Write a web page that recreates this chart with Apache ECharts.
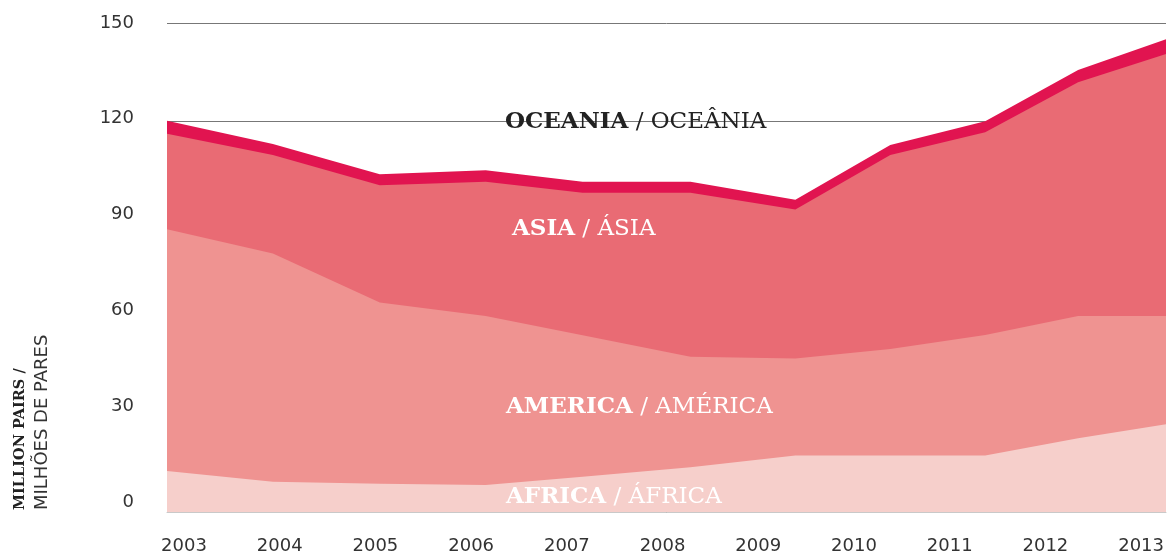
<!DOCTYPE html>
<html>
<head>
<meta charset="utf-8">
<title>Million pairs by region, 2003–2013</title>
<script src="https://cdn.jsdelivr.net/npm/echarts@6/dist/echarts.min.js"></script>
<style>
  html, body { margin: 0; padding: 0; background: #fff; }
  #chart { width: 1167px; height: 555px; }
</style>
</head>
<body>
<div id="chart"></div>
<script>
// Year labels shown under the chart
const years = ['2003', '2004', '2005', '2006', '2007', '2008', '2009', '2010', '2011', '2012', '2013'];
// Time of each observation, in fractional years
const sampleTimes = [2003, 2004.06, 2005.13, 2006.19, 2007.16, 2008.24, 2009.29, 2010.24, 2011.19, 2012.12, 2013];
// Million pairs per region (stacked bottom to top: Africa, America, Asia, Oceania)
const africa  = [12.6, 9.3, 8.7, 8.3, 10.8, 13.7, 17.3, 17.3, 17.3, 22.6, 26.9];
const america = [74.1, 70.0, 55.6, 51.8, 43.4, 33.9, 29.8, 32.7, 37.0, 37.5, 33.2];
const asia    = [29.3, 30.2, 35.9, 41.2, 43.7, 50.3, 45.7, 59.5, 62.2, 71.7, 80.4];
const oceania = [4.0, 3.4, 3.4, 3.5, 3.4, 3.4, 3.0, 3.1, 3.4, 3.8, 4.5];
// Value axis ticks
const yTicks = [0, 30, 60, 90, 120, 150];

const tickFont = 'DejaVu Sans';
const slabFont = 'DejaVu Serif';

// Running totals, so each band is drawn as an area from zero to its cumulative top
const layers = [africa, america, asia, oceania];
const cumulative = [];
layers.forEach((values, k) => {
  cumulative.push(values.map((v, i) => +(v + (k > 0 ? cumulative[k - 1][i] : 0)).toFixed(2)));
});

function pairs(values) {
  return values.map((v, i) => [sampleTimes[i], v]);
}

function areaSeries(name, values, color, z) {
  return {
    name: name,
    type: 'line',
    xAxisIndex: 0,
    yAxisIndex: 0,
    data: pairs(values),
    symbol: 'none',
    smooth: false,
    z: z,
    lineStyle: { width: 0 },
    areaStyle: { color: color, opacity: 1, origin: 'start' },
    itemStyle: { color: color },
    emphasis: { disabled: true },
    silent: true
  };
}

function regionLabel(x, y, bold, normal, color) {
  return {
    type: 'text',
    x: x,
    y: y,
    silent: true,
    z: 100,
    style: {
      text: '{b|' + bold + '}{n| / ' + normal + '}',
      verticalAlign: 'middle',
      align: 'left',
      rich: {
        b: { fontFamily: slabFont, fontWeight: 'bold', fontSize: 23, fill: color, color: color },
        n: { fontFamily: slabFont, fontWeight: 'normal', fontSize: 23, fill: color, color: color }
      }
    }
  };
}

const chart = echarts.init(document.getElementById('chart'), null, { renderer: 'canvas' });

chart.setOption({
  animation: false,
  backgroundColor: '#ffffff',
  grid: [
    // plot area
    { left: 167, right: 1, top: 23, bottom: 43, containLabel: false },
    // tick labels
    { left: 184, right: 22, top: 23, bottom: 52, containLabel: false }
  ],
  xAxis: [
    {
      type: 'value', gridIndex: 0, min: 2003, max: 2013,
      axisLabel: { show: false }, axisTick: { show: false }, splitLine: { show: false },
      axisLine: { show: true, onZero: false, lineStyle: { color: '#c9c9c9', width: 1 } }
    },
    {
      type: 'category', gridIndex: 1, data: years, boundaryGap: false,
      axisLine: { show: false }, axisTick: { show: false }, splitLine: { show: false },
      axisLabel: {
        show: true, interval: 0, margin: 44, verticalAlign: 'middle',
        color: '#333', fontFamily: tickFont, fontSize: 18
      }
    }
  ],
  yAxis: [
    {
      type: 'value', gridIndex: 0, min: 0, max: 150, interval: 30,
      axisLabel: { show: false }, axisTick: { show: false }, axisLine: { show: false },
      splitLine: { show: true, lineStyle: { color: '#777', width: 1 } }
    },
    {
      type: 'value', gridIndex: 1, min: yTicks[0], max: yTicks[yTicks.length - 1], interval: 30,
      axisTick: { show: false }, axisLine: { show: false }, splitLine: { show: false },
      axisLabel: { show: true, margin: 50, color: '#333', fontFamily: tickFont, fontSize: 18 }
    }
  ],
  series: [
    areaSeries('OCEANIA', cumulative[3], '#e11450', 2),
    areaSeries('ASIA', cumulative[2], '#e96b74', 3),
    areaSeries('AMERICA', cumulative[1], '#ef9391', 4),
    areaSeries('AFRICA', cumulative[0], '#f6cfcb', 5)
  ],
  graphic: [
    regionLabel(505, 122, 'OCEANIA', 'OCEÂNIA', '#222'),
    regionLabel(512, 229, 'ASIA', 'ÁSIA', '#fff'),
    regionLabel(506, 407, 'AMERICA', 'AMÉRICA', '#fff'),
    regionLabel(506, 497, 'AFRICA', 'ÁFRICA', '#fff'),
    {
      type: 'text', x: 20, y: 510, rotation: Math.PI / 2, silent: true,
      style: {
        text: 'MILLION PAIRS /', align: 'left', verticalAlign: 'middle',
        fontFamily: slabFont, fontWeight: 'bold', fontSize: 14.5, fill: '#222'
      }
    },
    {
      type: 'text', x: 42, y: 510, rotation: Math.PI / 2, silent: true,
      style: {
        text: 'MILHÕES DE PARES', align: 'left', verticalAlign: 'middle',
        fontFamily: tickFont, fontWeight: 'normal', fontSize: 18, fill: '#333'
      }
    }
  ]
});
</script>
</body>
</html>
